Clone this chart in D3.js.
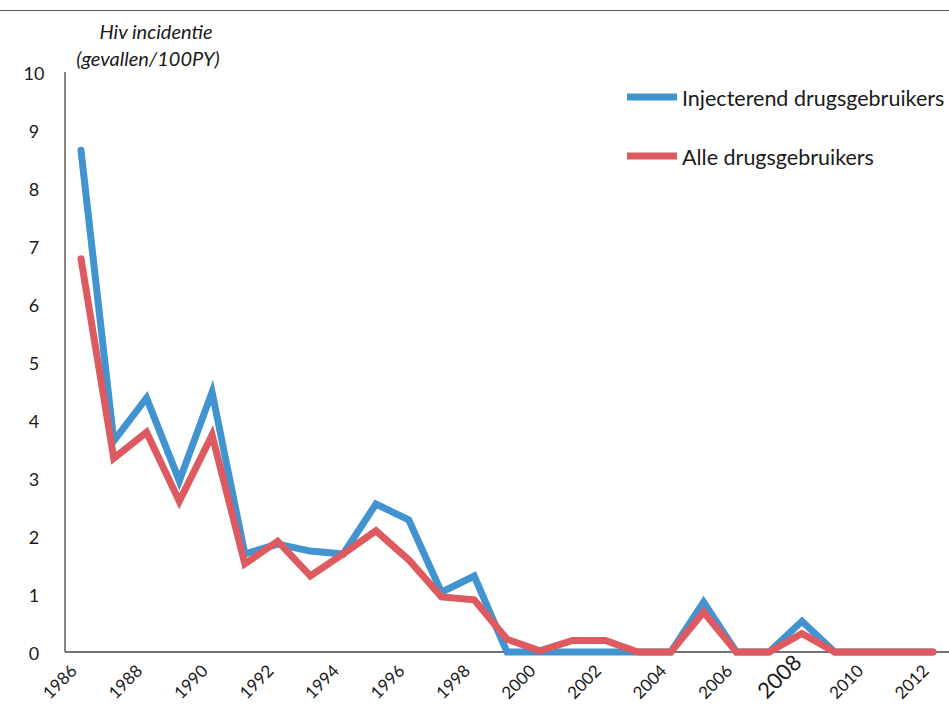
<!DOCTYPE html>
<html>
<head>
<meta charset="utf-8">
<script src="https://cdn.jsdelivr.net/npm/d3@7"></script>
<style>
  body { margin: 0; background: #fff; }
  text { font-family: Lato, "Noto Sans", sans-serif; fill: #1a1a1a; }
</style>
</head>
<body>
<div id="chart"></div>
<script>
    var years = [1986, 1987, 1988, 1989, 1990, 1991, 1992, 1993, 1994, 1995, 1996, 1997, 1998,
        1999, 2000, 2001, 2002, 2003, 2004, 2005, 2006, 2007, 2008, 2009, 2010, 2011, 2012];
    var injecterend = [8.65, 3.64, 4.38, 2.95, 4.48, 1.69, 1.86, 1.74, 1.69, 2.55, 2.28, 1.03, 1.31,
        0, 0, 0, 0, 0, 0, 0.86, 0, 0, 0.53, 0, 0, 0, 0];
    var alle = [6.78, 3.34, 3.79, 2.6, 3.74, 1.52, 1.91, 1.31, 1.69, 2.09, 1.59, 0.95, 0.9,
        0.22, 0.02, 0.2, 0.2, 0, 0, 0.69, 0, 0, 0.32, 0, 0, 0, 0];
    var yTicks = [0, 1, 2, 3, 4, 5, 6, 7, 8, 9, 10];
    var xTicks = [1986, 1988, 1990, 1992, 1994, 1996, 1998, 2000, 2002, 2004, 2006, 2008, 2010, 2012];
    var seriesNames = ['Injecterend drugsgebruikers', 'Alle drugsgebruikers'];
    var colors = ['#4294d1', '#dc5a60'];

    var width = 949;
    var height = 705;

    var svg = d3.select('#chart')
        .append('svg')
        .attr('width', width)
        .attr('height', height);

    var x = d3.scaleLinear().domain([1986, 2012]).range([81, 933]);
    var y = d3.scaleLinear().domain([0, 10]).range([652, 72]);

    // top rule
    svg.append('line')
        .attr('x1', 0).attr('x2', width)
        .attr('y1', 10.5).attr('y2', 10.5)
        .attr('stroke', '#555').attr('stroke-width', 1.2);

    // axes lines
    svg.append('line')
        .attr('x1', 65).attr('x2', 65)
        .attr('y1', y(10)).attr('y2', y(0))
        .attr('stroke', '#444').attr('stroke-width', 1.3);
    svg.append('line')
        .attr('x1', 65).attr('x2', width)
        .attr('y1', y(0)).attr('y2', y(0))
        .attr('stroke', '#444').attr('stroke-width', 1.3);

    svg.selectAll('.ylab')
        .data(yTicks)
        .enter()
        .append('text')
        .attr('class', 'ylab')
        .attr('x', 34)
        .attr('y', function(d) { return y(d) + 8; })
        .attr('text-anchor', 'middle')
        .style('font-size', '18px')
        .text(function(d) { return d; });

    svg.selectAll('.xlab')
        .data(xTicks)
        .enter()
        .append('text')
        .attr('class', 'xlab')
        .attr('text-anchor', 'end')
        .attr('transform', function(d) {
            return d === 2008
                ? 'translate(' + (x(d) + 1) + ',664) rotate(-45)'
                : 'translate(' + (x(d) - 3) + ',672) rotate(-45)';
        })
        .style('font-size', function(d) { return d === 2008 ? '22px' : '17px'; })
        .text(function(d) { return d; });

    // title
    svg.append('text')
        .attr('x', 156).attr('y', 39)
        .attr('text-anchor', 'middle')
        .style('font-size', '20px').style('font-style', 'italic')
        .text('Hiv incidentie');
    svg.append('text')
        .attr('x', 148).attr('y', 66)
        .attr('text-anchor', 'middle')
        .style('font-size', '20px').style('font-style', 'italic')
        .text('(gevallen/100PY)');

    var line = d3.line()
        .x(function(d) { return x(d.year); })
        .y(function(d) { return y(d.value); });

    [injecterend, alle].forEach(function(values, i) {
        var pts = years.map(function(yr, j) { return { year: yr, value: values[j] }; });
        svg.append('path')
            .datum(pts)
            .attr('d', line)
            .attr('fill', 'none')
            .attr('stroke', colors[i])
            .attr('stroke-width', 7)
            .attr('stroke-linejoin', 'miter')
            .attr('stroke-linecap', 'round');
    });

    var legend = svg.selectAll('.legend')
        .data(seriesNames)
        .enter()
        .append('g')
        .attr('class', 'legend')
        .attr('transform', function(d, i) { return 'translate(627,' + (97 + i * 59) + ')'; });

    legend.append('line')
        .attr('x1', 0).attr('x2', 50)
        .attr('y1', 0).attr('y2', 0)
        .attr('stroke', function(d, i) { return colors[i]; })
        .attr('stroke-width', 7);

    legend.append('text')
        .attr('x', 55)
        .attr('y', 9)
        .style('font-size', '21.5px')
        .text(function(d) { return d; });
</script>
</body>
</html>
